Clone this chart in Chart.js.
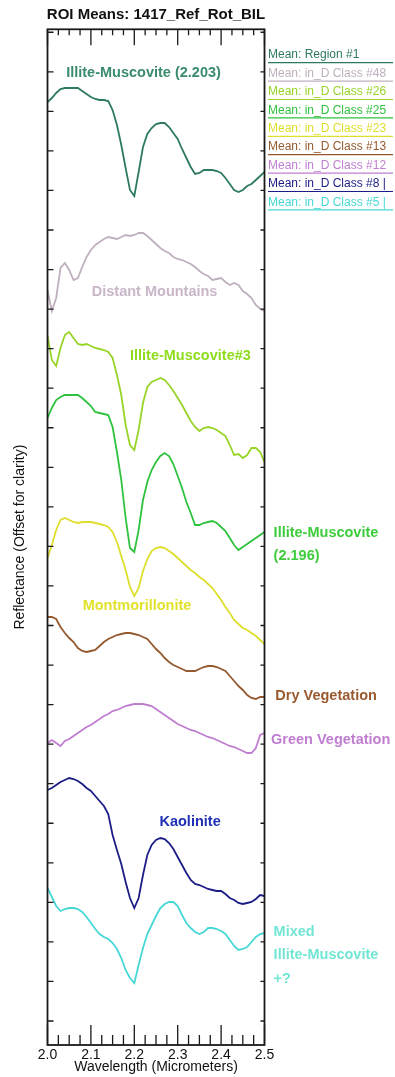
<!DOCTYPE html>
<html>
<head>
<meta charset="utf-8">
<title>ROI Means: 1417_Ref_Rot_BIL</title>
<script src="https://cdn.jsdelivr.net/npm/chart.js@4.4.1/dist/chart.umd.min.js"></script>
<style>
  html, body { margin: 0; padding: 0; background: #fff; }
  #wrap { width: 395px; height: 1077px; position: relative; }
</style>
</head>
<body>
<div id="wrap"><canvas id="roiChart"></canvas></div>
<script>
  // Wavelength grid (micrometers) shared by all ROI mean spectra
  const wavelengths = [
    2.00, 2.01, 2.02, 2.03, 2.04, 2.05, 2.06, 2.07, 2.08, 2.09,
    2.10, 2.11, 2.12, 2.13, 2.14, 2.15, 2.16, 2.17, 2.18, 2.19,
    2.20, 2.21, 2.22, 2.23, 2.24, 2.25, 2.26, 2.27, 2.28, 2.29,
    2.30, 2.31, 2.32, 2.33, 2.34, 2.35, 2.36, 2.37, 2.38, 2.39,
    2.40, 2.41, 2.42, 2.43, 2.44, 2.45, 2.46, 2.47, 2.48, 2.49, 2.50
  ];

  // Reflectance, offset for clarity (arbitrary units)
  const region1 = [9.43, 9.47, 9.52, 9.56, 9.57, 9.57, 9.57, 9.57, 9.54, 9.51, 9.48, 9.46, 9.45, 9.45, 9.44, 9.35, 9.20, 9.00, 8.77, 8.55, 8.49, 8.73, 8.98, 9.11, 9.17, 9.21, 9.22, 9.22, 9.18, 9.12, 9.06, 8.96, 8.87, 8.78, 8.71, 8.72, 8.75, 8.75, 8.75, 8.74, 8.72, 8.67, 8.61, 8.55, 8.53, 8.55, 8.59, 8.61, 8.65, 8.69, 8.73];
  const class48 = [7.55, 7.34, 7.47, 7.77, 7.82, 7.75, 7.65, 7.67, 7.78, 7.88, 7.95, 8.00, 8.03, 8.06, 8.08, 8.07, 8.06, 8.08, 8.10, 8.09, 8.10, 8.12, 8.12, 8.09, 8.05, 8.01, 7.97, 7.94, 7.92, 7.88, 7.86, 7.85, 7.83, 7.81, 7.78, 7.74, 7.71, 7.69, 7.65, 7.66, 7.67, 7.63, 7.60, 7.62, 7.60, 7.54, 7.51, 7.47, 7.40, 7.36, 7.34];
  const class26 = [7.09, 6.85, 6.79, 6.97, 7.10, 7.13, 7.07, 7.01, 7.00, 7.01, 6.99, 6.97, 6.96, 6.95, 6.93, 6.87, 6.70, 6.50, 6.20, 6.00, 5.95, 6.15, 6.42, 6.58, 6.63, 6.65, 6.67, 6.65, 6.60, 6.54, 6.47, 6.40, 6.32, 6.24, 6.18, 6.14, 6.17, 6.18, 6.17, 6.15, 6.12, 6.09, 6.00, 5.90, 5.91, 5.87, 5.90, 5.97, 5.97, 5.93, 5.83];
  const class25 = [6.27, 6.37, 6.45, 6.48, 6.50, 6.50, 6.50, 6.50, 6.47, 6.43, 6.39, 6.33, 6.32, 6.31, 6.30, 6.18, 5.93, 5.65, 5.27, 4.97, 4.93, 5.15, 5.45, 5.63, 5.75, 5.83, 5.89, 5.92, 5.89, 5.81, 5.69, 5.57, 5.43, 5.32, 5.20, 5.20, 5.22, 5.23, 5.24, 5.22, 5.18, 5.14, 5.07, 5.00, 4.95, 4.98, 5.01, 5.04, 5.07, 5.10, 5.13];
  const class23 = [4.87, 5.00, 5.15, 5.25, 5.27, 5.25, 5.23, 5.22, 5.23, 5.23, 5.23, 5.22, 5.21, 5.20, 5.18, 5.13, 5.03, 4.89, 4.75, 4.58, 4.49, 4.57, 4.74, 4.86, 4.94, 4.97, 4.98, 4.97, 4.94, 4.91, 4.87, 4.83, 4.79, 4.75, 4.72, 4.68, 4.65, 4.61, 4.57, 4.51, 4.45, 4.38, 4.32, 4.25, 4.21, 4.17, 4.15, 4.12, 4.09, 4.05, 4.01];
  const class13 = [4.28, 4.28, 4.26, 4.18, 4.12, 4.07, 4.03, 3.97, 3.94, 3.93, 3.94, 3.95, 3.99, 4.03, 4.06, 4.08, 4.10, 4.11, 4.12, 4.12, 4.11, 4.10, 4.08, 4.06, 4.01, 3.96, 3.92, 3.87, 3.83, 3.80, 3.78, 3.76, 3.74, 3.74, 3.74, 3.76, 3.78, 3.79, 3.79, 3.78, 3.76, 3.74, 3.69, 3.64, 3.59, 3.55, 3.50, 3.47, 3.46, 3.48, 3.48];
  const class12 = [3.02, 3.05, 3.02, 2.99, 3.04, 3.06, 3.09, 3.12, 3.15, 3.18, 3.20, 3.23, 3.26, 3.29, 3.31, 3.34, 3.35, 3.37, 3.39, 3.40, 3.41, 3.41, 3.41, 3.40, 3.39, 3.36, 3.33, 3.30, 3.27, 3.24, 3.21, 3.19, 3.17, 3.15, 3.14, 3.12, 3.10, 3.08, 3.07, 3.05, 3.03, 3.01, 2.99, 2.98, 2.96, 2.94, 2.92, 2.92, 2.97, 3.10, 3.12];
  const class8 = [2.55, 2.57, 2.60, 2.63, 2.65, 2.67, 2.66, 2.64, 2.61, 2.57, 2.54, 2.49, 2.44, 2.39, 2.31, 2.10, 1.95, 1.81, 1.63, 1.47, 1.37, 1.47, 1.70, 1.90, 2.00, 2.05, 2.07, 2.06, 2.02, 1.96, 1.88, 1.80, 1.72, 1.65, 1.61, 1.60, 1.58, 1.56, 1.55, 1.54, 1.54, 1.51, 1.47, 1.45, 1.42, 1.41, 1.42, 1.43, 1.46, 1.50, 1.49];
  const class5 = [1.57, 1.48, 1.39, 1.34, 1.36, 1.37, 1.37, 1.36, 1.33, 1.28, 1.22, 1.16, 1.11, 1.08, 1.06, 1.02, 0.96, 0.87, 0.75, 0.67, 0.62, 0.80, 0.97, 1.11, 1.20, 1.29, 1.37, 1.41, 1.43, 1.43, 1.39, 1.30, 1.22, 1.17, 1.13, 1.11, 1.13, 1.17, 1.17, 1.16, 1.14, 1.11, 1.05, 0.99, 0.95, 0.96, 0.98, 1.03, 1.08, 1.11, 1.12];

  const seriesNames = [
    "Mean: Region #1",
    "Mean: in_D Class #48",
    "Mean: in_D Class #26",
    "Mean: in_D Class #25",
    "Mean: in_D Class #23",
    "Mean: in_D Class #13",
    "Mean: in_D Class #12",
    "Mean: in_D Class #8 |",
    "Mean: in_D Class #5 |",
  ];
  const seriesValues = [region1, class48, class26, class25, class23, class13, class12, class8, class5];
  const seriesColors = ["#2e7a60", "#bfb0bf", "#98d428", "#2fc23f", "#dede2c", "#94592f", "#c07ed0", "#1c1c86", "#46d8d6"];

  // Spectral feature names, placed in data units (wavelength, offset)
  const featureLabels = [
    { lines: ["Illite-Muscovite (2.203)"], x: 2.043, y: 9.72, color: "#3a8c6c" },
    { lines: ["Distant Mountains"], x: 2.102, y: 7.53, color: "#c9b7c9" },
    { lines: ["Illite-Muscovite#3"], x: 2.190, y: 6.89, color: "#8fdc1c" },
    { lines: ["Illite-Muscovite", "(2.196)"], x: 2.521, y: 5.12, color: "#3ccc3c" },
    { lines: ["Montmorillonite"], x: 2.081, y: 4.39, color: "#e2e22c" },
    { lines: ["Dry Vegetation"], x: 2.525, y: 3.49, color: "#9a5a30" },
    { lines: ["Green Vegetation"], x: 2.515, y: 3.05, color: "#c07ed0" },
    { lines: ["Kaolinite"], x: 2.258, y: 2.23, color: "#2030b4" },
    { lines: ["Mixed", "Illite-Muscovite", "+?"], x: 2.521, y: 1.13, color: "#72e6d4" },
  ];

  const FONT = "'Liberation Sans', Arial, Helvetica, sans-serif";

  // unlabeled reflectance ticks
  const yTickValues = [];
  for (let k = 0; k <= 25; k += 1) {
    yTickValues.push(0.24 + k * 0.3955);
  }

  function isMajorWavelength(v) {
    return Math.abs(Math.round(v * 10) - v * 10) < 1e-6;
  }

  const framePlugin = {
    id: "frameTicksLegend",
    afterDatasetsDraw(chart) {
      const { ctx, chartArea: area, scales } = chart;
      const xs = scales.x;
      const ys = scales.y;
      ctx.save();
      ctx.strokeStyle = "#1a1a1a";
      ctx.lineWidth = 1.3;

      // inward ticks on all four sides
      ctx.beginPath();
      xs.ticks.forEach((tick) => {
        const px = xs.getPixelForValue(tick.value);
        const major = isMajorWavelength(tick.value);
        ctx.moveTo(px, area.top);
        ctx.lineTo(px, area.top + (major ? 16 : 6));
        ctx.moveTo(px, area.bottom);
        ctx.lineTo(px, area.bottom - (major ? 20 : 10));
      });
      ys.ticks.forEach((tick) => {
        const py = ys.getPixelForValue(tick.value);
        ctx.moveTo(area.left, py);
        ctx.lineTo(area.left + 6, py);
        ctx.moveTo(area.right, py);
        ctx.lineTo(area.right - 4, py);
      });
      ctx.stroke();

      ctx.lineWidth = 1.8;
      ctx.strokeRect(area.left, area.top, area.right - area.left, area.bottom - area.top);

      // title
      ctx.fillStyle = "#111";
      ctx.font = "bold 15px " + FONT;
      ctx.textAlign = "center";
      ctx.textBaseline = "middle";
      ctx.fillText("ROI Means: 1417_Ref_Rot_BIL", (area.left + area.right) / 2, 15);

      // legend with colored underlines
      ctx.font = "12px " + FONT;
      ctx.textAlign = "left";
      const legendLeft = area.right + 3.5;
      seriesNames.forEach((name, i) => {
        const cy = 55 + i * 18.4;
        ctx.fillStyle = seriesColors[i];
        ctx.fillText(name, legendLeft, cy);
        ctx.strokeStyle = seriesColors[i];
        ctx.lineWidth = 1.2;
        ctx.beginPath();
        ctx.moveTo(legendLeft, cy + 7.7);
        ctx.lineTo(393, cy + 7.7);
        ctx.stroke();
      });

      // feature names
      ctx.font = "bold 14.5px " + FONT;
      featureLabels.forEach((lab) => {
        const px = xs.getPixelForValue(lab.x);
        const py = ys.getPixelForValue(lab.y);
        ctx.fillStyle = lab.color;
        lab.lines.forEach((line, j) => {
          ctx.fillText(line, px, py + j * 23.4);
        });
      });
      ctx.restore();
    },
  };

  new Chart(document.getElementById("roiChart"), {
    type: "line",
    data: {
      labels: wavelengths,
      datasets: seriesNames.map((name, i) => ({
        label: name,
        data: wavelengths.map((w, j) => ({ x: w, y: seriesValues[i][j] })),
        borderColor: seriesColors[i],
        borderWidth: 1.8,
        pointRadius: 0,
        tension: 0,
        fill: false,
      })),
    },
    options: {
      responsive: true,
      maintainAspectRatio: false,
      animation: false,
      events: [],
      layout: {
        padding: { left: 0, right: 130.5, top: 29.3, bottom: 0 },
      },
      plugins: {
        legend: { display: false },
        title: { display: false },
        tooltip: { enabled: false },
      },
      scales: {
        x: {
          type: "linear",
          min: 2.0,
          max: 2.5,
          afterFit(scale) {
            scale.height = 32;
          },
          grid: { display: false, drawTicks: false },
          border: { display: false },
          ticks: {
            stepSize: 0.025,
            autoSkip: false,
            maxRotation: 0,
            padding: 2,
            color: "#111",
            font: { family: FONT, size: 14 },
            callback: (v) => (isMajorWavelength(v) ? Number(v).toFixed(1) : ""),
          },
          title: {
            display: true,
            text: "Wavelength (Micrometers)",
            color: "#111",
            font: { family: FONT, size: 14 },
            padding: { top: 0, bottom: 1.5 },
          },
        },
        y: {
          min: 0,
          max: 10.157,
          afterBuildTicks(scale) {
            scale.ticks = yTickValues.map((v) => ({ value: v }));
          },
          afterFit(scale) {
            scale.width = 47.5;
          },
          grid: { display: false, drawTicks: false },
          border: { display: false },
          ticks: { display: false },
          title: {
            display: true,
            text: "Reflectance (Offset for clarity)",
            color: "#111",
            font: { family: FONT, size: 14 },
            padding: { top: 12, bottom: 0 },
          },
        },
      },
    },
    plugins: [framePlugin],
  });
</script>
</body>
</html>
